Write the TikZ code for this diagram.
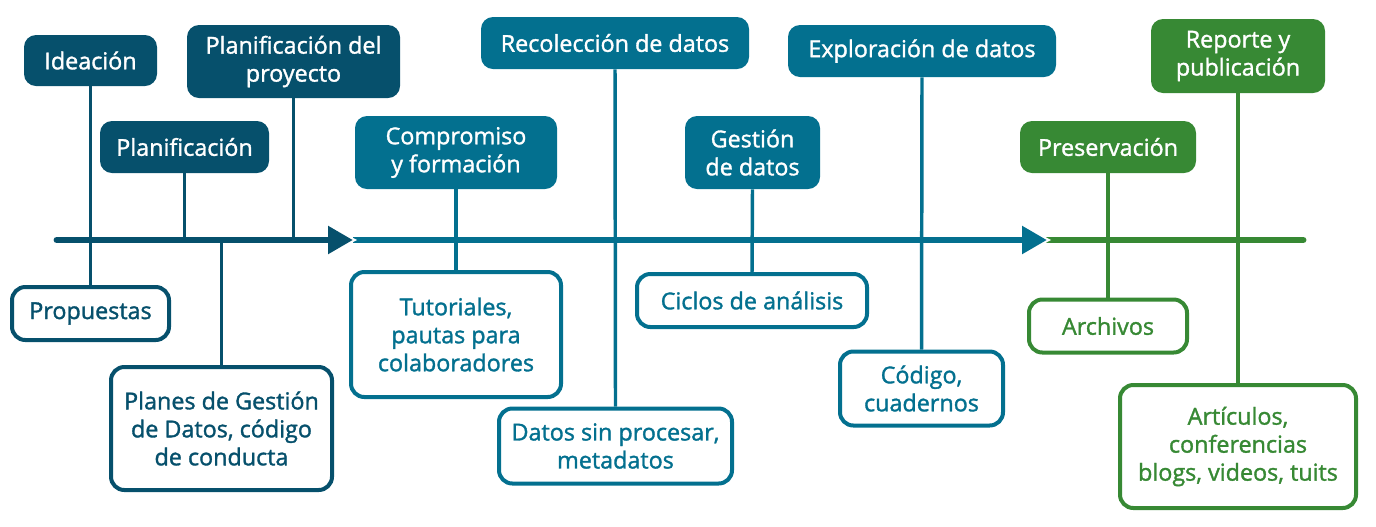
\documentclass[tikz,border=0pt]{standalone}
\usepackage{fontspec}
\newfontfamily\boxfont{Open Sans}[UprightFeatures={FakeBold=1.4}]
\usepackage{tikz}
\usetikzlibrary{arrows.meta}
\definecolor{ideadark}{RGB}{6,80,108}
\definecolor{datateal}{RGB}{3,112,143}
\definecolor{pubgreen}{RGB}{55,137,52}

\begin{document}
\begin{tikzpicture}[x=0.75pt, y=-0.75pt,
        phase/.style={rounded corners=9pt, fill=#1, text=white, align=center, inner sep=0pt, font=\boxfont\fontsize{17.5pt}{21pt}\selectfont},
        output/.style={rounded corners=10pt, draw=#1, line width=3pt, fill=white, text=#1, align=center, inner sep=0pt, font=\boxfont\fontsize{17.5pt}{21pt}\selectfont},
        link/.style={draw=#1, line width=2.6pt},
        spine/.style={draw=#1, line width=5.2pt}]
        \useasboundingbox (0,0) rectangle (1376,526);

        \coordinate (spinestart) at (57,240);
        \coordinate (tipone) at (353,240);
        \coordinate (tiptwo) at (1047,240);
        \coordinate (spineend) at (1303,240);

        \node[phase=ideadark, minimum width=99.75pt, minimum height=38.25pt] (ideacion) at (90.5,60.5) {Ideación};
        \node[phase=ideadark, minimum width=126.75pt, minimum height=39pt] (planif) at (184.5,147) {Planificación};
        \node[phase=ideadark, minimum width=159.75pt, minimum height=54.75pt] (proyecto) at (293.5,61.5) {Planificación del\\proyecto};
        \node[phase=datateal, minimum width=151.5pt, minimum height=54.75pt] (compromiso) at (456,152.5) {Compromiso\\y formación};
        \node[phase=datateal, minimum width=201pt, minimum height=39pt] (recoleccion) at (615,43) {Recolección de datos};
        \node[phase=datateal, minimum width=101.25pt, minimum height=54.75pt] (gestion) at (752.5,152.5) {Gestión\\de datos};
        \node[phase=datateal, minimum width=201pt, minimum height=39pt] (exploracion) at (922,51) {Exploración de datos};
        \node[phase=pubgreen, minimum width=132pt, minimum height=39pt] (preservacion) at (1108,147) {Preservación};
        \node[phase=pubgreen, minimum width=130.5pt, minimum height=55.5pt] (reporte) at (1238,56) {Reporte y\\publicación};

        \node[output=ideadark, minimum width=117.75pt, minimum height=39.75pt] (propuestas) at (90.5,313.5) {Propuestas};
        \node[output=ideadark, minimum width=165.75pt, minimum height=92.25pt] (planes) at (221.5,428.5) {Planes de Gestión\\de Datos, código\\de conducta};
        \node[output=datateal, minimum width=157.5pt, minimum height=93.75pt] (tutoriales) at (456,334.5) {Tutoriales,\\pautas para\\colaboradores};
        \node[output=datateal, minimum width=174.75pt, minimum height=56.25pt] (datossin) at (615.5,446) {Datos sin procesar,\\metadatos};
        \node[output=datateal, minimum width=172.5pt, minimum height=39.75pt] (ciclos) at (752,300.5) {Ciclos de análisis};
        \node[output=datateal, minimum width=122.25pt, minimum height=55.5pt] (codigo) at (921.5,388.5) {Código,\\cuadernos};
        \node[output=pubgreen, minimum width=118.5pt, minimum height=39.75pt] (archivos) at (1108,326) {Archivos};
        \node[output=pubgreen, minimum width=177pt, minimum height=92.25pt] (articulos) at (1238,446.5) {Artículos,\\conferencias\\blogs, videos, tuits};

        \foreach \from/\to/\col in {ideacion/propuestas/ideadark, compromiso/tutoriales/datateal, recoleccion/datossin/datateal, gestion/ciclos/datateal, exploracion/codigo/datateal, preservacion/archivos/pubgreen, reporte/articulos/pubgreen}
            \draw[link=\col] (\from.south) -- (\to.north);
        \draw[link=ideadark] (planif.south) -- (planif.south |- spinestart);
        \draw[link=ideadark] (proyecto.south) -- (proyecto.south |- spinestart);
        \draw[link=ideadark] (planes.north |- spinestart) -- (planes.north);

        \draw[spine=pubgreen, line cap=round] (tiptwo) -- (spineend);
        \fill[white, shift={(tiptwo)}] (-28,-17) -- (4,0) -- (-28,17) -- cycle;
        \draw[spine=datateal, -{Triangle[length=18.75pt, width=20pt]}] (tipone) -- (tiptwo);
        \fill[white, shift={(tipone)}] (-28,-17) -- (4,0) -- (-28,17) -- cycle;
        \draw[spine=ideadark, line cap=round, -{Triangle[length=18.75pt, width=20pt]}] (spinestart) -- (tipone);
\end{tikzpicture}
\end{document}
